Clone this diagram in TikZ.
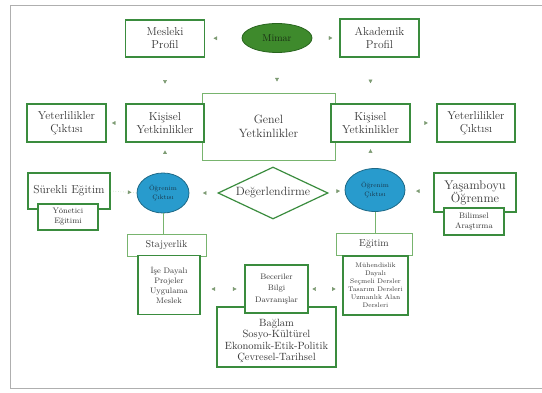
\documentclass[tikz,border=0pt]{standalone}
\usetikzlibrary{shapes.geometric,decorations.markings,arrows.meta}
\definecolor{bgreen}{RGB}{58,140,62}
\definecolor{lgreen}{RGB}{120,180,110}
\definecolor{mfill}{RGB}{62,138,44}
\definecolor{mline}{RGB}{40,100,30}
\definecolor{ofill}{RGB}{40,155,205}
\definecolor{oline}{RGB}{30,105,135}
\definecolor{txtc}{RGB}{55,55,55}
\definecolor{arrc}{RGB}{125,155,115}
\definecolor{framec}{RGB}{175,175,175}
\tikzset{
  box/.style={draw=bgreen, line width=1.2pt, fill=white, rectangle, inner sep=0pt, align=center, text=txtc},
  lbox/.style={draw=lgreen, line width=0.8pt, fill=white, rectangle, inner sep=0pt, align=center, text=txtc},
  ovalnode/.style={draw=oline, line width=0.8pt, fill=ofill, ellipse, inner sep=0pt, align=center, text={rgb,255:red,25;green,55;blue,75}},
  tipat/.style={postaction={decorate}, decoration={markings, mark=at position #1 with {\arrow{Triangle[length=3.6pt,width=3.8pt]}}}},
  conn/.style={draw=lgreen, line width=0.7pt},
  fA/.style={font=\fontsize{11.5}{13}\selectfont},
  fB/.style={font=\fontsize{8}{10}\selectfont},
}
\begin{document}
\begin{tikzpicture}[x=1pt,y=-1pt]
\useasboundingbox (0,0) rectangle (542,393);
\draw[framec, line width=1pt] (542,6) -- (10,6) -- (10,389) -- (542,389);

% top row
\node[box, fA, minimum width=79pt, minimum height=37pt] (mesleki) at (165,38.5) {Mesleki\\Profil};
\node[ellipse, draw=mline, fill=mfill, line width=0.8pt, minimum width=70pt, minimum height=29pt, inner sep=0pt, text={rgb,255:red,25;green,45;blue,20}, font=\fontsize{10}{12}\selectfont] (mimar) at (277,38) {Mimar};
\node[box, fA, minimum width=79pt, minimum height=38pt] (akademik) at (379.5,38) {Akademik\\Profil};

% second row
\node[lbox, font=\fontsize{12}{14}\selectfont, minimum width=133pt, minimum height=67pt] (genel) at (268.5,126.5) {Genel\\Yetkinlikler};
\node[box, fA, minimum width=78pt, minimum height=38pt] (kisL) at (165,123) {Kişisel\\Yetkinlikler};
\node[box, fA, minimum width=79pt, minimum height=38pt] (kisR) at (370.5,123) {Kişisel\\Yetkinlikler};
\node[box, fA, minimum width=79pt, minimum height=38pt] (yetL) at (66.5,123) {Yeterlilikler\\Çıktısı};
\node[box, fA, minimum width=78pt, minimum height=38pt] (yetR) at (476,123) {Yeterlilikler\\Çıktısı};

% third row
\node[box, font=\fontsize{11.5}{13}\selectfont, minimum width=82pt, minimum height=36pt] (surekli) at (69,191) {Sürekli Eğitim};
\node[box, fB, minimum width=60pt, minimum height=26pt] (yonetici) at (68,217) {Yönetici\\Eğitimi};
\node[ovalnode, font=\fontsize{6.5}{8.5}\selectfont, minimum width=52pt, minimum height=40pt] (ocL) at (163,193) {Öğrenim\\Çıktısı};
\node[diamond, shape aspect=2.2, draw=bgreen, line width=1.2pt, fill=white, inner sep=0pt, minimum width=110pt, minimum height=52pt, text=txtc, font=\fontsize{12}{14}\selectfont] (deger) at (273,193) {Değerlendirme};
\node[ovalnode, font=\fontsize{6.5}{8.5}\selectfont, minimum width=60pt, minimum height=43pt] (ocR) at (375,190) {Öğrenim\\Çıktısı};
\node[box, font=\fontsize{12.5}{13}\selectfont, minimum width=82pt, minimum height=39pt] (yasam) at (475,192.5) {Yaşamboyu\\Öğrenme};
\node[box, fB, minimum width=60pt, minimum height=27pt] (bilimsel) at (474,221.5) {Bilimsel\\Araştırma};

% bottom
\node[lbox, font=\fontsize{10}{12}\selectfont, minimum width=79pt, minimum height=22pt] (staj) at (166.5,245) {Stajyerlik};
\node[box, font=\fontsize{8}{10}\selectfont, minimum width=62pt, minimum height=59pt] (ise) at (169,285) {İşe Dayalı\\Projeler\\Uygulama\\Meslek};
\node[lbox, font=\fontsize{10}{12}\selectfont, minimum width=76pt, minimum height=22pt] (egitim) at (374,244) {Eğitim};
\node[box, font=\fontsize{6.6}{8}\selectfont, minimum width=65pt, minimum height=59pt] (muh) at (375.5,285.5) {Mühendislik\\Dayalı\\Seçmeli Dersler\\Tasarım Dersleri\\Uzmanlık Alan\\Dersleri};
\node[box, minimum width=119pt, minimum height=60pt] (baglam) at (276.5,337) {};
\node[text=txtc, align=center, inner sep=0pt, font=\fontsize{10.5}{11.5}\selectfont] (baglamt) at (276.5,341) {Bağlam\\Sosyo-Kültürel\\Ekonomik-Etik-Politik\\Çevresel-Tarihsel};
\node[box, font=\fontsize{8}{11.5}\selectfont, minimum width=63pt, minimum height=48pt] (beceri) at (276.5,289) {Beceriler\\Bilgi\\Davranışlar};

% connecting lines
\draw[conn] (ocL.south) -- (ocL.south |- staj.north);
\draw[conn] (ocR.south) -- (ocR.south |- egitim.north);
\draw[lgreen!70, line width=0.5pt, dotted] (surekli.east) -- (ocL.west);

% arrowheads
\begin{scope}[color=arrc]
\path[tipat=0.77] (mimar) -- (mesleki);
\path[tipat=0.74] (mimar) -- (akademik);
\path[tipat=0.57] (mesleki) -- (kisL);
\path[tipat=0.72] (mimar) -- (mimar |- genel.north);
\path[tipat=0.56] (kisR |- akademik.south) -- (kisR);
\path[tipat=0.72] (kisL) -- (yetL);
\path[tipat=0.67] (kisR) -- (yetR);
\path[tipat=0.74] (kisL |- ocL.north) -- (kisL.south);
\path[tipat=0.74] (kisR |- ocR.north) -- (kisR.south);
\path[tipat=0.8] (surekli) -- (ocL);
\path[tipat=0.52] (deger) -- (ocL);
\path[tipat=0.76] (deger) -- (ocR);
\path[tipat=0.62] (yasam) -- (ocR);
\path[tipat=0.75] (beceri) -- (beceri -| ise.east);
\path[tipat=0.82] (beceri -| ise.east) -- (beceri);
\path[tipat=0.8] (beceri) -- (beceri -| muh.west);
\path[tipat=0.89] (beceri -| muh.west) -- (beceri);
\end{scope}
\end{tikzpicture}
\end{document}
